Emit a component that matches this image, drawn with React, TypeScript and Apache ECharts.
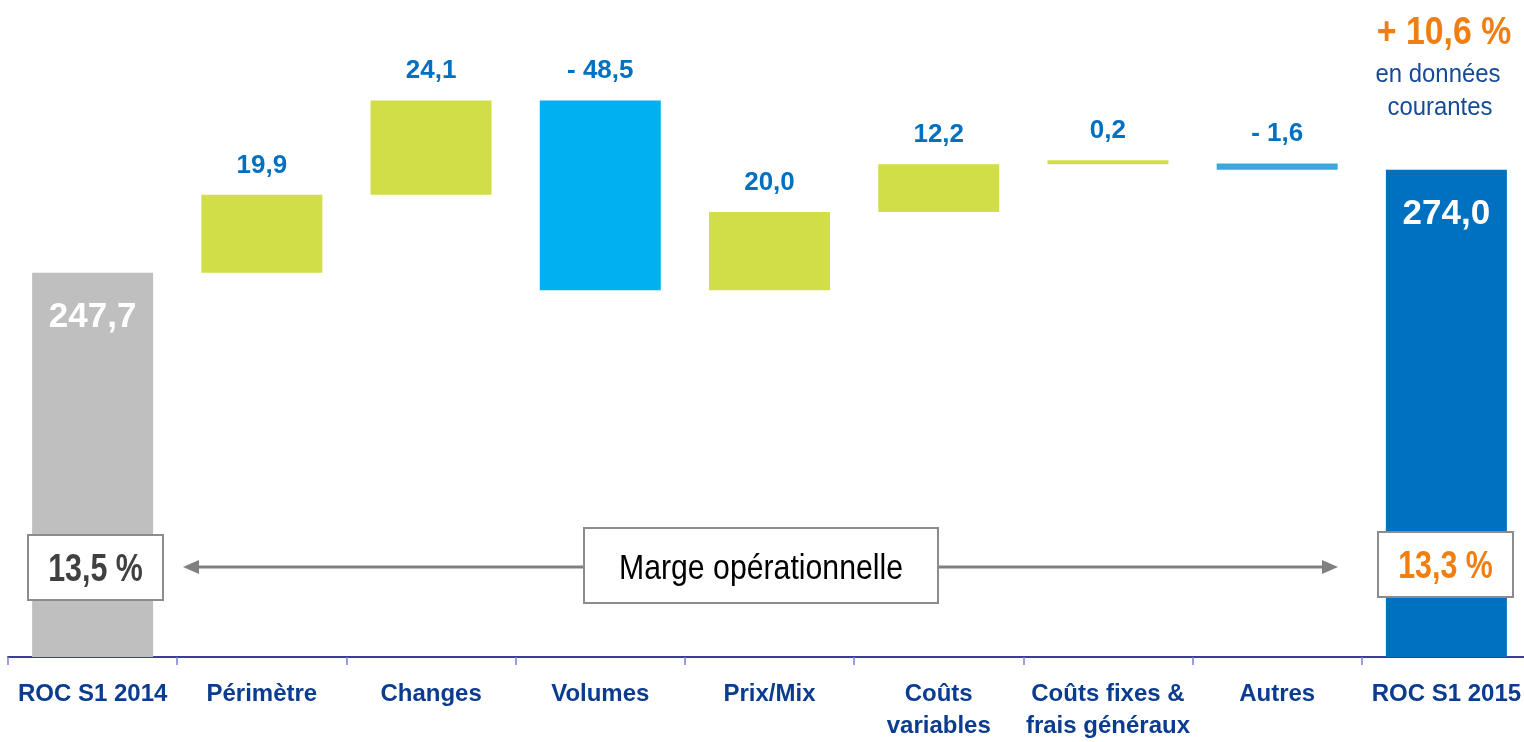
import React, { useEffect, useRef } from "react";
import * as echarts from "echarts";

const categories = [
  "ROC S1 2014",
  "Périmètre",
  "Changes",
  "Volumes",
  "Prix/Mix",
  "Coûts\nvariables",
  "Coûts fixes &\nfrais généraux",
  "Autres",
  "ROC S1 2015",
];
const deltas = [247.7, 19.9, 24.1, -48.5, 20.0, 12.2, 0.2, -1.6, 274.0];
const isTotal = [true, false, false, false, false, false, false, false, true];
const barColors = [
  "#BFBFBF",
  "#D1DE47",
  "#D1DE47",
  "#00B0F0",
  "#D1DE47",
  "#D1DE47",
  "#D1DE47",
  "#3BA8DC",
  "#0070C0",
];
const growthLabel = "+ 10,6 %";
const growthNote = ["en données", "courantes"];
const marginStart = "13,5 %";
const marginEnd = "13,3 %";
const marginTitle = "Marge opérationnelle";

const NARROW = "'Liberation Sans Narrow', 'Arial Narrow', 'Liberation Sans', Arial, sans-serif";

function fmt(v: number): string {
  const s = Math.abs(v).toFixed(1).replace(".", ",");
  return v < 0 ? "- " + s : s;
}

function narrowText(
  x: number,
  y: number,
  text: string,
  fill: string,
  font: string,
  sx: number,
  z: number
) {
  return {
    type: "text",
    x,
    y,
    scaleX: sx,
    z,
    style: {
      x: 0,
      y: 0,
      text,
      fill,
      font,
      textAlign: "center",
      textVerticalAlign: "middle",
    },
  };
}

export default function App() {
  const ref = useRef<HTMLDivElement>(null);
  useEffect(() => {
    if (!ref.current) return;
    const chart = echarts.init(ref.current, null, { renderer: "svg" });

    const bases: number[] = [];
    const heights: number[] = [];
    let running = 0;
    deltas.forEach((d, i) => {
      if (isTotal[i]) {
        bases.push(0);
        heights.push(d);
        running = d;
      } else if (d >= 0) {
        bases.push(running);
        heights.push(d);
        running += d;
      } else {
        running += d;
        bases.push(running);
        heights.push(-d);
      }
    });

    const visibleData = heights.map((h, i) => ({
      value: h,
      itemStyle: { color: barColors[i] },
      label: isTotal[i]
        ? {
            show: true,
            position: "insideTop",
            distance: 24,
            color: "#FFFFFF",
            fontSize: 35,
            fontWeight: "bold",
            fontFamily: NARROW,
            formatter: () => fmt(deltas[i]),
          }
        : {
            show: true,
            position: "top",
            distance: 18,
            color: "#0070C0",
            fontSize: 26,
            fontWeight: "bold",
            fontFamily: NARROW,
            formatter: () => fmt(deltas[i]),
          },
    }));

    const grey = "#808080";
    const gz = 100;

    chart.setOption({
      animation: false,
      grid: { left: 8, top: 68, width: 1523, height: 589, containLabel: false },
      xAxis: {
        type: "category",
        data: categories,
        axisLine: { show: true, lineStyle: { color: "#3C3CA0", width: 2 } },
        axisTick: { show: true, length: 8, lineStyle: { color: "#7C7CD0", width: 1.5 } },
        axisLabel: {
          interval: 0,
          color: "#0B3C8F",
          fontSize: 24,
          fontWeight: "bold",
          fontFamily: NARROW,
          lineHeight: 32,
          margin: 19,
        },
        splitLine: { show: false },
      },
      yAxis: {
        type: "value",
        min: 149.5,
        max: 300,
        show: false,
        splitLine: { show: false },
      },
      series: [
        {
          type: "bar",
          stack: "w",
          data: bases,
          barWidth: 121,
          itemStyle: { color: "transparent" },
          silent: true,
          clip: true,
        },
        {
          type: "bar",
          stack: "w",
          data: visibleData,
          barWidth: 121,
          barMinHeight: 4,
          clip: true,
        },
      ],
      graphic: [
        narrowText(1444, 31, growthLabel, "#F07E10", `bold 38px ${NARROW}`, 0.89, gz),
        narrowText(1438, 73, growthNote[0], "#154A98", `26px ${NARROW}`, 0.92, gz),
        narrowText(1440, 106, growthNote[1], "#154A98", `26px ${NARROW}`, 0.92, gz),
        // arrows
        {
          type: "line",
          z: gz,
          shape: { x1: 195, y1: 567, x2: 585, y2: 567 },
          style: { stroke: grey, lineWidth: 3 },
        },
        {
          type: "polygon",
          z: gz,
          shape: { points: [[183, 567], [199, 560], [199, 574]] },
          style: { fill: grey },
        },
        {
          type: "line",
          z: gz,
          shape: { x1: 938, y1: 567, x2: 1326, y2: 567 },
          style: { stroke: grey, lineWidth: 3 },
        },
        {
          type: "polygon",
          z: gz,
          shape: { points: [[1338, 567], [1322, 560], [1322, 574]] },
          style: { fill: grey },
        },
        // boxes
        {
          type: "rect",
          z: gz,
          shape: { x: 28, y: 535, width: 135, height: 65 },
          style: { fill: "#FFFFFF", stroke: "#8C8C8C", lineWidth: 2 },
        },
        narrowText(95.5, 568, marginStart, "#404040", `bold 38px ${NARROW}`, 0.8, gz + 1),
        {
          type: "rect",
          z: gz,
          shape: { x: 584, y: 528, width: 354, height: 75 },
          style: { fill: "#FFFFFF", stroke: "#8C8C8C", lineWidth: 2 },
        },
        narrowText(761, 567, marginTitle, "#000000", `36px ${NARROW}`, 0.84, gz + 1),
        {
          type: "rect",
          z: gz,
          shape: { x: 1378, y: 532, width: 135, height: 65 },
          style: { fill: "#FFFFFF", stroke: "#8C8C8C", lineWidth: 2 },
        },
        narrowText(1445.5, 565, marginEnd, "#F07E10", `bold 38px ${NARROW}`, 0.8, gz + 1),
      ],
    });
    return () => chart.dispose();
  }, []);

  return (
    <div
      ref={ref}
      style={{ position: "fixed", left: 0, top: 0, width: 1540, height: 742 }}
    />
  );
}
